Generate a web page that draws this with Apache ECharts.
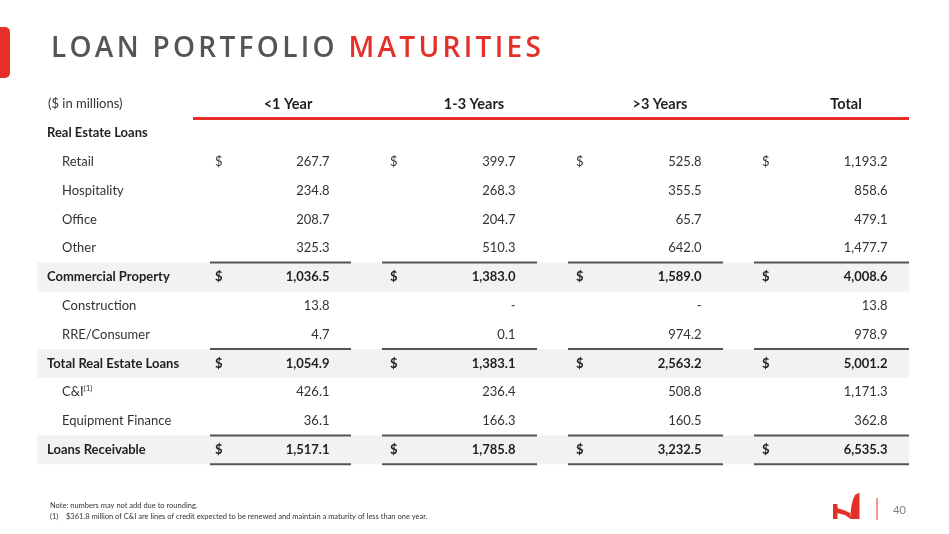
<!DOCTYPE html>
<html>
<head>
<meta charset="utf-8">
<script src="https://cdn.jsdelivr.net/npm/echarts@6/dist/echarts.min.js"></script>
<style>
  html, body { margin: 0; padding: 0; background: #fff; }
  #main { width: 949px; height: 534px; }
</style>
</head>
<body>
<div id="main"></div>
<script>
// table data ($ in millions)
const columns = ['<1 Year', '1-3 Years', '>3 Years', 'Total'];
const rowLabels = ['Real Estate Loans', 'Retail', 'Hospitality', 'Office', 'Other', 'Commercial Property',
  'Construction', 'RRE/Consumer', 'Total Real Estate Loans', 'C&I', 'Equipment Finance', 'Loans Receivable'];
const underOneYear = [null, 267.7, 234.8, 208.7, 325.3, 1036.5, 13.8, 4.7, 1054.9, 426.1, 36.1, 1517.1];
const oneToThreeYears = [null, 399.7, 268.3, 204.7, 510.3, 1383.0, 0, 0.1, 1383.1, 236.4, 166.3, 1785.8];
const overThreeYears = [null, 525.8, 355.5, 65.7, 642.0, 1589.0, 0, 974.2, 2563.2, 508.8, 160.5, 3232.5];
const totals = [null, 1193.2, 858.6, 479.1, 1477.7, 4008.6, 13.8, 978.9, 5001.2, 1171.3, 362.8, 6535.3];
const headingRows = ['Real Estate Loans'];
const subtotalRows = ['Commercial Property', 'Total Real Estate Loans', 'Loans Receivable'];
const dollarRows = ['Retail', 'Commercial Property', 'Total Real Estate Loans', 'Loans Receivable'];
const footnoteMarks = { 'C&I': '(1)' };

const RED = '#e5302a';
const FONT = 'Lato';

var chart = echarts.init(document.getElementById('main'));

function fmt(v) {
  if (v === 0) return '-';
  return v.toLocaleString('en-US', { minimumFractionDigits: 1, maximumFractionDigits: 1 });
}

function cellData() {
  var res = [];
  [underOneYear, oneToThreeYears, overThreeYears, totals].forEach(function (arr, c) {
    arr.forEach(function (v, r) {
      if (v !== null) res.push([c, r, v]);
    });
  });
  return res;
}

function bandData() {
  return subtotalRows.map(function (name) {
    return [0, rowLabels.indexOf(name)];
  });
}

function titleText(str, style) {
  return str.split('').map(function (ch) { return '{' + style + '|' + ch + '}'; }).join('');
}

function renderBand(params, api) {
  var r = api.value(1);
  var h = api.size([0, 1])[1];
  var p0 = api.coord([0, r]);
  var p3 = api.coord([3, r]);
  var top = p0[1] - h / 2;
  var children = [{
    type: 'rect',
    shape: { x: p0[0] - 251, y: top, width: p3[0] + 63 - (p0[0] - 251), height: h },
    style: { fill: '#f2f2f2' }
  }];
  var isLast = rowLabels[r] === 'Loans Receivable';
  for (var c = 0; c < 4; c++) {
    var p = api.coord([c, r]);
    var x1 = p[0] - (c === 0 ? 78 : 92);
    var x2 = p[0] + 63;
    children.push({ type: 'line', shape: { x1: x1, y1: top, x2: x2, y2: top },
      style: { stroke: '#555', lineWidth: 2 } });
    if (isLast) {
      children.push({ type: 'line', shape: { x1: x1, y1: top + h, x2: x2, y2: top + h },
        style: { stroke: '#555', lineWidth: 2 } });
    }
  }
  return { type: 'group', children: children };
}

function renderRule(params, api) {
  var h = api.size([0, 1])[1];
  var p0 = api.coord([0, 0]);
  var p3 = api.coord([3, 0]);
  var y = p0[1] - h / 2;
  return { type: 'line', shape: { x1: p0[0] - 95, y1: y, x2: p3[0] + 63, y2: y },
    style: { stroke: RED, lineWidth: 3 } };
}

function renderCell(params, api) {
  var c = api.value(0), r = api.value(1), v = api.value(2);
  var p = api.coord([c, r]);
  var name = rowLabels[r];
  var bold = subtotalRows.indexOf(name) >= 0;
  var font = (bold ? 'bold ' : '') + '13px ' + FONT;
  var color = bold ? '#1f1f1f' : '#333';
  var children = [{
    type: 'text',
    style: { x: p[0] + 41.5, y: p[1], text: fmt(v), align: 'right', verticalAlign: 'middle', font: font, fill: color }
  }];
  if (dollarRows.indexOf(name) >= 0) {
    children.push({
      type: 'text',
      style: { x: p[0] - (c === 0 ? 73 : 84), y: p[1], text: '$', align: 'left', verticalAlign: 'middle', font: font, fill: color }
    });
  }
  return { type: 'group', children: children };
}

var option = {
  animation: false,
  backgroundColor: '#fff',
  grid: { left: 195, right: 10, top: 118.6, bottom: 69.8 },
  xAxis: {
    type: 'category',
    data: columns,
    position: 'top',
    z: 10,
    axisLine: { show: false },
    axisTick: { show: false },
    axisLabel: { margin: 7, fontFamily: FONT, fontWeight: 'bold', fontSize: 14.5, color: '#1f1f1f' },
    splitLine: { show: false }
  },
  yAxis: {
    type: 'category',
    data: rowLabels,
    inverse: true,
    z: 10,
    axisLine: { show: false },
    axisTick: { show: false },
    splitLine: { show: false },
    axisLabel: {
      align: 'left',
      margin: 148,
      formatter: function (name) {
        if (headingRows.indexOf(name) >= 0 || subtotalRows.indexOf(name) >= 0) return '{b|' + name + '}';
        if (footnoteMarks[name]) return '{n|' + name + '}{sup|' + footnoteMarks[name] + '}';
        return '{n|' + name + '}';
      },
      rich: {
        b: { fontFamily: FONT, fontWeight: 'bold', fontSize: 13, color: '#1f1f1f' },
        n: { fontFamily: FONT, fontSize: 13, color: '#333', padding: [0, 0, 0, 15], lineHeight: 16 },
        sup: { fontFamily: FONT, fontSize: 8, color: '#333', verticalAlign: 'top', lineHeight: 16 }
      }
    }
  },
  graphic: [
    { type: 'rect', shape: { x: -6, y: 27, width: 16, height: 51, r: 5 }, style: { fill: RED } },
    {
      type: 'text', x: 51, y: 35.5,
      style: {
        text: titleText('LOAN PORTFOLIO ', 'g') + titleText('MATURITIES', 'r'),
        rich: {
          g: { fontFamily: 'Open Sans', fontWeight: 600, fontSize: 28, fill: '#555', padding: [0, 3.3, 0, 0] },
          r: { fontFamily: 'Open Sans', fontWeight: 600, fontSize: 28, fill: RED, padding: [0, 3.3, 0, 0] }
        }
      }
    },
    { type: 'text', x: 48, y: 104, style: { text: '($ in millions)', font: '13px ' + FONT, fill: '#333', verticalAlign: 'middle' } },
    { type: 'text', x: 50, y: 506, style: { text: 'Note: numbers may not add due to rounding.', font: '7.5px ' + FONT, fill: '#333', verticalAlign: 'middle' } },
    { type: 'text', x: 50, y: 517, style: { text: '(1)', font: '7.5px ' + FONT, fill: '#333', verticalAlign: 'middle' } },
    { type: 'text', x: 66, y: 517, style: { text: '$361.8 million of C&I are lines of credit expected to be renewed and maintain a maturity of less than one year.', font: '7.5px ' + FONT, fill: '#333', verticalAlign: 'middle' } },
    // logo
    { type: 'rect', shape: { x: 833, y: 504, width: 4.5, height: 15 }, style: { fill: RED } },
    { type: 'polygon', shape: { points: [[837, 508], [845, 510.5], [850, 513], [850, 518.5], [845, 515], [837, 513]] }, style: { fill: RED } },
    { type: 'polygon', shape: { points: [[850, 519], [850.6, 512], [851.6, 505], [853.2, 499], [855, 495], [859.5, 492.5], [859.5, 519]] }, style: { fill: RED } },
    { type: 'line', shape: { x1: 877, y1: 498, x2: 877, y2: 520 }, style: { stroke: RED, lineWidth: 1 } },
    { type: 'text', x: 893, y: 510, style: { text: '40', font: '11px ' + FONT, fill: '#808080', verticalAlign: 'middle' } }
  ],
  series: [
    { type: 'custom', name: 'bands', renderItem: renderBand, data: bandData(), z: 1, silent: true },
    { type: 'custom', name: 'rule', renderItem: renderRule, data: [[0, 0]], z: 2, silent: true },
    { type: 'custom', name: 'cells', renderItem: renderCell, data: cellData(), z: 3, silent: true }
  ]
};

chart.setOption(option);
</script>
</body>
</html>
